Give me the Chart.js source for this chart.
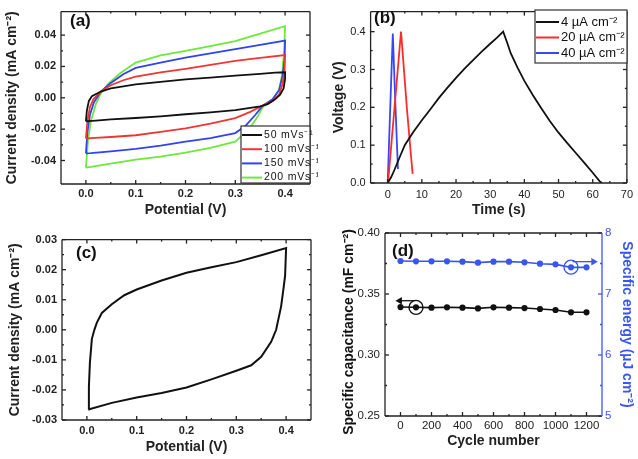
<!DOCTYPE html>
<html>
<head>
<meta charset="utf-8">
<script src="https://cdn.jsdelivr.net/npm/chart.js@4/dist/chart.umd.min.js"></script>
<style>
  body { margin: 0; background: #fff; }
  #wrap { position: relative; width: 638px; height: 459px; }
  canvas { position: absolute; }
</style>
</head>
<body>
<div id="wrap">
  <canvas id="cvA" width="318" height="228" style="left:0;top:0"></canvas>
  <canvas id="gcdB" width="320" height="228" style="left:318px;top:0"></canvas>
  <canvas id="cvC" width="318" height="231" style="left:0;top:228px"></canvas>
  <canvas id="cycD" width="320" height="241" style="left:318px;top:218px"></canvas>
</div>
<script>
// (a) CV at four scan rates: forward sweep then reverse sweep
var cv50V  = [0, 0.002, 0.006, 0.012, 0.03, 0.05, 0.1, 0.15, 0.2, 0.25, 0.3, 0.35, 0.38, 0.4,
              0.4, 0.397, 0.39, 0.38, 0.365, 0.35, 0.3, 0.25, 0.2, 0.15, 0.1, 0.05, 0.02, 0.005, 0];
var cv50I  = [-0.015, -0.008, -0.002, 0.001, 0.004, 0.006, 0.0086, 0.0102, 0.0117, 0.0129, 0.0141, 0.0153, 0.016, 0.0163,
              0.012, 0.006, 0.002, -0.001, -0.004, -0.0055, -0.0079, -0.0093, -0.0105, -0.0118, -0.0129, -0.0138, -0.0145, -0.0149, -0.015];
var cv100V = [0, 0.003, 0.008, 0.015, 0.03, 0.05, 0.075, 0.1, 0.15, 0.2, 0.25, 0.3, 0.35, 0.4,
              0.4, 0.399, 0.395, 0.388, 0.375, 0.355, 0.33, 0.3, 0.25, 0.2, 0.15, 0.1, 0.05, 0.01, 0];
var cv100I = [-0.026, -0.015, -0.006, -0.001, 0.004, 0.008, 0.0112, 0.0135, 0.0162, 0.0185, 0.021, 0.0235, 0.0255, 0.0273,
              0.027, 0.018, 0.009, 0.002, -0.002, -0.005, -0.009, -0.0129, -0.0165, -0.0195, -0.0218, -0.0239, -0.025, -0.0257, -0.026];
var cv150V = [0, 0.003, 0.008, 0.016, 0.03, 0.05, 0.075, 0.1, 0.15, 0.2, 0.25, 0.3, 0.35, 0.4,
              0.4, 0.399, 0.395, 0.388, 0.375, 0.355, 0.34, 0.32, 0.3, 0.25, 0.2, 0.15, 0.1, 0.05, 0.01, 0];
var cv150I = [-0.0355, -0.022, -0.011, -0.003, 0.004, 0.0095, 0.015, 0.0191, 0.0225, 0.0257, 0.0284, 0.031, 0.0338, 0.0365,
              0.036, 0.025, 0.014, 0.005, -0.001, -0.005, -0.011, -0.018, -0.0225, -0.0258, -0.028, -0.0305, -0.0326, -0.0342, -0.0353, -0.0355];
var cv200V = [0, 0.004, 0.01, 0.02, 0.03, 0.045, 0.07, 0.1, 0.15, 0.2, 0.25, 0.3, 0.35, 0.4,
              0.4, 0.398, 0.394, 0.388, 0.375, 0.355, 0.345, 0.33, 0.3, 0.25, 0.2, 0.15, 0.1, 0.05, 0.01, 0];
var cv200I = [-0.0445, -0.028, -0.015, -0.004, 0.003, 0.009, 0.016, 0.0225, 0.027, 0.03, 0.033, 0.0362, 0.041, 0.0457,
              0.0457, 0.03, 0.015, 0.005, -0.001, -0.006, -0.012, -0.019, -0.028, -0.032, -0.035, -0.0375, -0.0395, -0.042, -0.0441, -0.0445];
var rateLabels = ['50 mVs\u207B\u00B9', '100 mVs\u207B\u00B9', '150 mVs\u207B\u00B9', '200 mVs\u207B\u00B9'];
var ticksAx = [0.0, 0.1, 0.2, 0.3, 0.4];
var ticksAy = [-0.04, -0.02, 0.0, 0.02, 0.04];

// (b) charge/discharge
var gcd4T  = [0, 1, 2, 3.5, 5, 7.5, 10, 12.5, 15, 17.5, 20, 22.5, 25, 27.5, 30, 32, 33.8,
              35, 36, 38, 40, 42.5, 45, 47.5, 50, 52.5, 55, 57.5, 60, 62, 62.7];
var gcd4V  = [0, 0.015, 0.035, 0.068, 0.1, 0.135, 0.166, 0.195, 0.225, 0.252, 0.278, 0.302, 0.325, 0.347, 0.368, 0.384, 0.4,
              0.37, 0.343, 0.305, 0.27, 0.232, 0.197, 0.163, 0.133, 0.106, 0.08, 0.054, 0.027, 0.005, 0];
var gcd20T = [0.1, 1, 2, 3, 3.9, 4.5, 5.6, 6.5, 7.3];
var gcd20V = [0, 0.095, 0.2, 0.305, 0.4, 0.33, 0.2, 0.105, 0.024];
var gcd40T = [0, 0.75, 1.5, 2.2, 3.0];
var gcd40V = [0, 0.2, 0.395, 0.22, 0.037];
var currentLabels = ['4 \u00B5A cm\u207B\u00B2', '20 \u00B5A cm\u207B\u00B2', '40 \u00B5A cm\u207B\u00B2'];
var ticksBx = [0, 10, 20, 30, 40, 50, 60, 70];
var ticksBy = [0.0, 0.1, 0.2, 0.3, 0.4];

// (c) single CV
var cvCV = [0.003, 0.004, 0.006, 0.01, 0.015, 0.02, 0.03, 0.05, 0.075, 0.1, 0.15, 0.2, 0.25, 0.3, 0.35, 0.4,
            0.398, 0.395, 0.39, 0.38, 0.37, 0.35, 0.33, 0.3, 0.25, 0.2, 0.15, 0.1, 0.05, 0.003];
var cvCI = [-0.0265, -0.019, -0.011, -0.003, 0.0, 0.0024, 0.0056, 0.0085, 0.0115, 0.0134, 0.0164, 0.019, 0.0208, 0.0225, 0.0248, 0.0272,
            0.018, 0.014, 0.0078, 0.0, -0.004, -0.009, -0.0118, -0.0136, -0.0165, -0.0192, -0.021, -0.0225, -0.0243, -0.0265];
var ticksCy = [-0.03, -0.02, -0.01, 0.0, 0.01, 0.02, 0.03];

// (d) cycling
var cycles = [0, 100, 200, 300, 400, 500, 600, 700, 800, 900, 1000, 1100, 1200];
var capacitance = [0.3393, 0.3391, 0.3388, 0.3391, 0.3388, 0.3382, 0.3391, 0.3388, 0.3385, 0.3377, 0.3369, 0.335, 0.335];
var energy = [7.541, 7.536, 7.536, 7.536, 7.53, 7.514, 7.53, 7.53, 7.52, 7.497, 7.486, 7.437, 7.437];
var ticksDx = [0, 200, 400, 600, 800, 1000, 1200];
var ticksDy = [0.25, 0.30, 0.35, 0.40];
var ticksDy2 = [5, 6, 7, 8];

var FONT = "'Liberation Sans', Arial, sans-serif";
var BLUE_D = '#3a55f0';
Chart.defaults.font.family = FONT;
Chart.defaults.color = '#222';
Chart.defaults.animation = false;

function pts(xs, ys) {
  return xs.map(function (x, i) { return { x: x, y: ys[i] }; });
}
function fixTicks(list) {
  return function (s) { s.ticks = list.map(function (v) { return { value: v }; }); };
}
function fitW(w) { return function (s) { s.width = w; }; }
function fitH(h) { return function (s) { s.height = h; }; }
var noGrid = { display: false, drawTicks: false };

// box around the plot with inward major/minor ticks
var framePlugin = {
  id: 'frame',
  afterDatasetsDraw: function (chart, args, o) {
    var ctx = chart.ctx, a = chart.chartArea;
    ctx.save();
    ctx.lineWidth = 1.3;
    function seg(x1, y1, x2, y2, c) {
      ctx.strokeStyle = c; ctx.beginPath(); ctx.moveTo(x1, y1); ctx.lineTo(x2, y2); ctx.stroke();
    }
    var rc = o.rightColor || '#222';
    Object.values(chart.scales).forEach(function (s) {
      var vals = s.ticks.map(function (t) { return t.value; });
      var marks = [];
      vals.forEach(function (v, i) {
        marks.push([v, 4]);
        if (i < vals.length - 1) marks.push([(v + vals[i + 1]) / 2, 2]);
      });
      marks.forEach(function (m) {
        var p = s.getPixelForValue(m[0]);
        if (s.isHorizontal()) {
          seg(p, a.bottom, p, a.bottom - m[1], '#222');
          seg(p, a.top, p, a.top + m[1], '#222');
        } else if (s.position === 'right') {
          seg(a.right, p, a.right - m[1], p, rc);
        } else {
          seg(a.left, p, a.left + m[1], p, '#222');
          if (!o.rightColor) seg(a.right, p, a.right - m[1], p, '#222');
        }
      });
    });
    seg(a.left, a.top, a.right, a.top, '#222');
    seg(a.left, a.bottom, a.right, a.bottom, '#222');
    seg(a.left, a.top, a.left, a.bottom, '#222');
    seg(a.right, a.top, a.right, a.bottom, rc);
    if (o.label) {
      ctx.fillStyle = '#111';
      ctx.font = 'bold 17px ' + FONT;
      ctx.textBaseline = 'middle';
      ctx.fillText(o.label, o.lx, o.ly);
    }
    if (o.ytitle) {
      // long left title that is wider than the plot height
      ctx.translate(o.tx, o.ty);
      ctx.rotate(-Math.PI / 2);
      ctx.font = 'bold 14px ' + FONT;
      ctx.textAlign = 'center';
      ctx.textBaseline = 'middle';
      ctx.fillText(o.ytitle, 0, 0);
    }
    ctx.restore();
  }
};

// boxed legend drawn inside the plot
var boxLegend = {
  id: 'boxLegend',
  afterDraw: function (chart, args, o) {
    if (!o.x) return;
    var ctx = chart.ctx;
    ctx.save();
    ctx.fillStyle = '#fff';
    ctx.fillRect(o.x, o.y, o.w, o.h);
    ctx.strokeStyle = '#333'; ctx.lineWidth = 1.2;
    ctx.strokeRect(o.x, o.y, o.w, o.h);
    ctx.font = o.font;
    if (o.spacing) ctx.letterSpacing = o.spacing;
    ctx.textBaseline = 'middle';
    chart.data.datasets.forEach(function (ds, i) {
      var cy = o.y + o.first + i * o.step;
      ctx.strokeStyle = ds.borderColor; ctx.lineWidth = 2;
      ctx.beginPath(); ctx.moveTo(o.x + 1, cy); ctx.lineTo(o.x + 1 + o.line, cy); ctx.stroke();
      ctx.fillStyle = '#111';
      ctx.fillText(ds.label, o.x + o.line + 3, cy);
    });
    ctx.restore();
  }
};
Chart.register(framePlugin, boxLegend);

function cvLine(label, xs, ys, color) {
  return { label: label, data: pts(xs, ys), borderColor: color, backgroundColor: color,
           showLine: true, pointRadius: 0, borderWidth: 1.8, tension: 0 };
}
function titleFont(bold) { return { size: 14, weight: bold ? 'bold' : 'normal' }; }

// ---------- (a) ----------
new Chart(document.getElementById('cvA'), {
  type: 'scatter',
  data: { datasets: [
    cvLine(rateLabels[0], cv50V, cv50I, '#111111'),
    cvLine(rateLabels[1], cv100V, cv100I, '#f03535'),
    cvLine(rateLabels[2], cv150V, cv150I, '#2f43f0'),
    cvLine(rateLabels[3], cv200V, cv200I, '#6ee83c')
  ] },
  options: {
    responsive: false, devicePixelRatio: 1,
    layout: { padding: { top: 3, right: 8, left: 0, bottom: 0 } },
    plugins: {
      legend: { display: false }, tooltip: { enabled: false },
      frame: { label: '(a)', lx: 70, ly: 21 },
      boxLegend: { x: 241, y: 126, w: 69, h: 57, first: 9, step: 14.2, line: 20,
                   font: '10.5px ' + FONT, spacing: '0.8px' }
    },
    scales: {
      x: { min: -0.05, max: 0.45, afterBuildTicks: fixTicks(ticksAx), afterFit: fitH(44),
           grid: noGrid, border: { display: false },
           ticks: { font: { size: 11, weight: 'bold' }, padding: 3, callback: function (v) { return v.toFixed(1); } },
           title: { display: true, text: 'Potential (V)', font: titleFont(true), padding: { top: 0, bottom: 9 } } },
      y: { min: -0.055, max: 0.055, afterBuildTicks: fixTicks(ticksAy), afterFit: fitW(61),
           grid: noGrid, border: { display: false },
           ticks: { font: { size: 11, weight: 'bold' }, padding: 5, callback: function (v) { return v.toFixed(2); } },
           title: { display: true, text: 'Current density (mA cm\u207B\u00B2)', font: titleFont(true), padding: { top: 4, bottom: 0 } } }
    }
  }
});

// ---------- (b) ----------
new Chart(document.getElementById('gcdB'), {
  type: 'scatter',
  data: { datasets: [
    cvLine(currentLabels[0], gcd4T, gcd4V, '#111111'),
    cvLine(currentLabels[1], gcd20T, gcd20V, '#ff2b2b'),
    cvLine(currentLabels[2], gcd40T, gcd40V, '#3448f5')
  ] },
  options: {
    responsive: false, devicePixelRatio: 1,
    layout: { padding: { top: 3, right: 7.3, left: 0, bottom: 0 } },
    plugins: {
      legend: { display: false }, tooltip: { enabled: false },
      frame: { label: '(b)', lx: 56, ly: 18 },
      boxLegend: { x: 217, y: 10, w: 92, h: 53, first: 12, step: 15.5, line: 23,
                   font: '13px ' + FONT }
    },
    scales: {
      x: { min: -5, max: 70, afterBuildTicks: fixTicks(ticksBx), afterFit: fitH(45),
           grid: noGrid, border: { display: false },
           ticks: { font: { size: 11 }, padding: 5 },
           title: { display: true, text: 'Time (s)', font: titleFont(true), padding: { top: 0, bottom: 9 } } },
      y: { min: 0, max: 0.453, afterBuildTicks: fixTicks(ticksBy), afterFit: fitW(52.6),
           grid: noGrid, border: { display: false },
           ticks: { font: { size: 11 }, padding: 5, callback: function (v) { return v.toFixed(1); } },
           title: { display: true, text: 'Voltage (V)', font: titleFont(true), padding: { top: 13, bottom: 0 } } }
    }
  }
});

// ---------- (c) ----------
new Chart(document.getElementById('cvC'), {
  type: 'scatter',
  data: { datasets: [ {
    label: 'CV', data: pts(cvCV, cvCI), borderColor: '#111', showLine: true,
    pointRadius: 0, borderWidth: 2, tension: 0
  } ] },
  options: {
    responsive: false, devicePixelRatio: 1,
    layout: { padding: { top: 6, right: 7, left: 0, bottom: 0 } },
    plugins: {
      legend: { display: false }, tooltip: { enabled: false },
      frame: { label: '(c)', lx: 76, ly: 25 }
    },
    scales: {
      x: { min: -0.05, max: 0.45, afterBuildTicks: fixTicks(ticksAx), afterFit: fitH(39),
           grid: noGrid, border: { display: false },
           ticks: { font: { size: 11, weight: 'bold' }, padding: 4, callback: function (v) { return v.toFixed(1); } },
           title: { display: true, text: 'Potential (V)', font: titleFont(true), padding: { top: 0, bottom: 3 } } },
      y: { min: -0.03, max: 0.03, afterBuildTicks: fixTicks(ticksCy), afterFit: fitW(62),
           grid: noGrid, border: { display: false },
           ticks: { font: { size: 11, weight: 'bold' }, padding: 5, callback: function (v) { return v.toFixed(2); } },
           title: { display: true, text: 'Current density (mA cm\u207B\u00B2)', font: titleFont(true), padding: { top: 7, bottom: 0 } } }
    }
  }
});

// ---------- (d) ----------
new Chart(document.getElementById('cycD'), {
  type: 'scatter',
  data: { datasets: [
    { label: 'Specific capacitance', data: pts(cycles, capacitance), yAxisID: 'y',
      borderColor: '#111', backgroundColor: '#111', showLine: true, borderWidth: 1.6, pointRadius: 2.3 },
    { label: 'Specific energy', data: pts(cycles, energy), yAxisID: 'y2',
      borderColor: BLUE_D, backgroundColor: BLUE_D, showLine: true, borderWidth: 1.6, pointRadius: 2.3 },
    // axis markers: circle + arrow pointing to the matching axis
    { label: 'cap marker', data: [{ x: 100, y: 0.339 }], yAxisID: 'y',
      pointRadius: 7, pointBorderColor: '#111', pointBackgroundColor: 'rgba(0,0,0,0)', pointBorderWidth: 1.4 },
    { label: 'cap arrow', data: [{ x: 90, y: 0.3445 }, { x: -5, y: 0.3445 }], yAxisID: 'y', showLine: true,
      borderColor: '#111', backgroundColor: '#111', borderWidth: 1.3,
      pointRadius: [0, 3], pointStyle: 'triangle', rotation: -90 },
    { label: 'energy marker', data: [{ x: 1100, y: 7.44 }], yAxisID: 'y2',
      pointRadius: 7, pointBorderColor: BLUE_D, pointBackgroundColor: 'rgba(0,0,0,0)', pointBorderWidth: 1.4 },
    { label: 'energy arrow', data: [{ x: 1110, y: 7.53 }, { x: 1245, y: 7.53 }], yAxisID: 'y2', showLine: true,
      borderColor: BLUE_D, backgroundColor: BLUE_D, borderWidth: 1.3,
      pointRadius: [0, 3], pointStyle: 'triangle', rotation: 90 }
  ] },
  options: {
    responsive: false, devicePixelRatio: 1,
    layout: { padding: { top: 15, right: 0, left: 0, bottom: 0 } },
    plugins: {
      legend: { display: false }, tooltip: { enabled: false },
      frame: { label: '(d)', lx: 74, ly: 33, rightColor: BLUE_D,
               ytitle: 'Specific capacitance (mF cm\u207B\u00B2)', tx: 31, ty: 114 }
    },
    scales: {
      x: { min: -100, max: 1300, afterBuildTicks: fixTicks(ticksDx), afterFit: fitH(43),
           grid: noGrid, border: { display: false },
           ticks: { font: { size: 11.5 }, padding: 3, callback: function (v) { return String(v); } },
           title: { display: true, text: 'Cycle number', font: titleFont(true), padding: { top: 0, bottom: 9 } } },
      y: { position: 'left', min: 0.25, max: 0.40, afterBuildTicks: fixTicks(ticksDy), afterFit: fitW(67),
           grid: noGrid, border: { display: false },
           ticks: { font: { size: 11.5 }, padding: 5, callback: function (v) { return v.toFixed(2); } } },
      y2: { position: 'right', min: 5, max: 8, afterBuildTicks: fixTicks(ticksDy2), afterFit: fitW(36),
           grid: noGrid, border: { display: false },
           ticks: { font: { size: 11.5 }, padding: 3, color: BLUE_D },
           title: { display: true, text: 'Specific energy (\u00B5J cm\u207B\u00B2)', color: BLUE_D, font: titleFont(true), padding: { top: 3, bottom: 0 } } }
    }
  }
});
</script>
</body>
</html>
